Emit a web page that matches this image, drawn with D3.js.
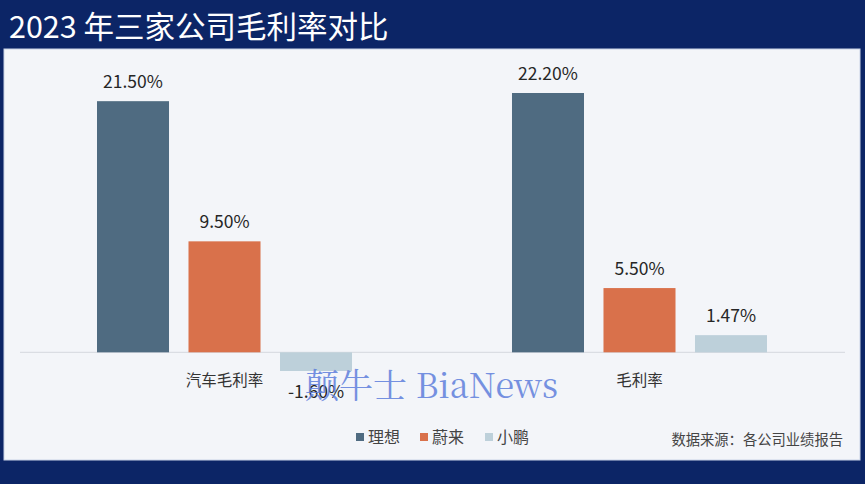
<!DOCTYPE html>
<html><head><meta charset="utf-8">
<script src="https://cdn.jsdelivr.net/npm/d3@7"></script>
<style>html,body{margin:0;padding:0;background:#0c2566;}svg{display:block;}</style>
</head><body>
<svg id="c" width="865" height="484"></svg>
<script>
const categories = ["汽车毛利率", "毛利率"];
const seriesNames = ["理想", "蔚来", "小鹏"];
const lixiang = [21.5, 22.2];
const nio = [9.5, 5.5];
const xpeng = [-1.6, 1.47];
const valueLabels = [["21.50%", "22.20%"], ["9.50%", "5.50%"], ["-1.60%", "1.47%"]];
const colors = ["#4f6b81", "#d9714b", "#bdd0da"];
const title = "2023 年三家公司毛利率对比";
const source = "数据来源：各公司业绩报告";

const series = [lixiang, nio, xpeng];
const svg = d3.select("#c");
const font = "'Noto Sans CJK SC', 'Noto Sans', sans-serif";

svg.append("rect").attr("width", 865).attr("height", 484).attr("fill", "#0c2566");
svg.append("text").attr("x", 9).attr("y", 38).attr("fill", "#ffffff")
  .attr("font-family", font).attr("font-size", 30.5).text(title);
svg.append("rect").attr("x", 4).attr("y", 49).attr("width", 856).attr("height", 411)
  .attr("fill", "#f3f5f9").attr("stroke", "#c9d3e6").attr("stroke-width", 1);

const x0 = d3.scaleBand().domain(categories).range([97, 767]).paddingInner(0.3855).paddingOuter(0);
const x1 = d3.scaleBand().domain(seriesNames).range([0, x0.bandwidth()]).paddingInner(0.213).paddingOuter(0);
const y = d3.scaleLinear().domain([-1.6, 22.2]).range([371, 93]);

svg.append("line").attr("x1", 20).attr("x2", 845).attr("y1", y(0)).attr("y2", y(0))
  .attr("stroke", "#d4d8de").attr("stroke-width", 1);

seriesNames.forEach((s, si) => {
  const g = svg.append("g");
  categories.forEach((c, ci) => {
    const v = series[si][ci];
    const bx = x0(c) + x1(s);
    g.append("rect").attr("x", bx).attr("width", x1.bandwidth())
      .attr("y", y(Math.max(0, v))).attr("height", Math.abs(y(v) - y(0)))
      .attr("fill", colors[si]);
    g.append("text").attr("x", bx + x1.bandwidth() / 2)
      .attr("y", v >= 0 ? y(v) - 13 : y(v) + 27)
      .attr("text-anchor", "middle").attr("font-family", font).attr("font-size", 17.5)
      .attr("fill", "#262626").text(valueLabels[si][ci]);
  });
});

categories.forEach(c => {
  svg.append("text").attr("x", x0(c) + x0.bandwidth() / 2).attr("y", 386)
    .attr("text-anchor", "middle").attr("font-family", font).attr("font-size", 15.5)
    .attr("fill", "#333").text(c);
});

// legend
const lx = [356, 420, 485];
seriesNames.forEach((s, i) => {
  svg.append("rect").attr("x", lx[i]).attr("y", 433).attr("width", 8).attr("height", 8).attr("fill", colors[i]);
  svg.append("text").attr("x", lx[i] + 12).attr("y", 443).attr("font-family", font)
    .attr("font-size", 16).attr("fill", "#444").text(s);
});
svg.append("text").attr("x", 843).attr("y", 445).attr("text-anchor", "end")
  .attr("font-family", font).attr("font-size", 14.3).attr("fill", "#444").text(source);

// watermark
svg.append("text").attr("x", 305).attr("y", 398).attr("font-family", "'Noto Serif CJK SC', 'Liberation Serif', 'DejaVu Serif', serif")
  .attr("font-size", 34).attr("fill", "#5f7fdc").attr("opacity", 0.85).text("颠牛士 BiaNews");
</script>
</body></html>
